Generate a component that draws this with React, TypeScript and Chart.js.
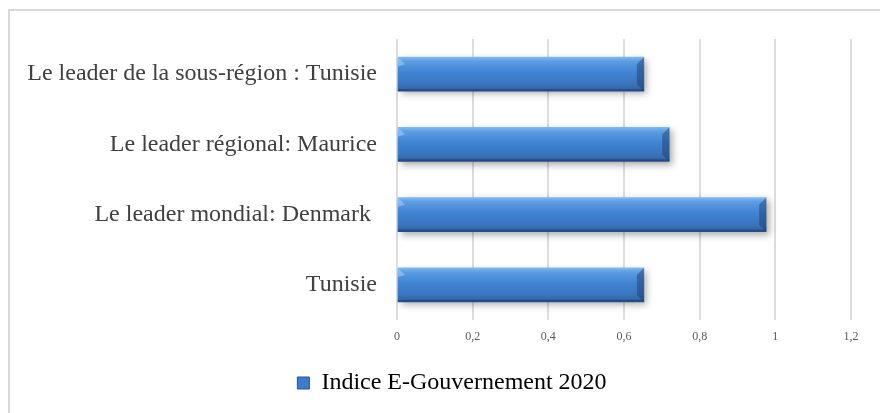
import React, { useEffect, useRef } from "react";
import { Chart, registerables } from "chart.js";

Chart.register(...registerables);

const categories = [
  "Le leader de la sous-région : Tunisie",
  "Le leader régional: Maurice",
  "Le leader mondial: Denmark ",
  "Tunisie",
];
const seriesName = "Indice E-Gouvernement 2020";
const values = [0.6526, 0.7196, 0.9758, 0.6526];
const xTicks = [0, 0.2, 0.4, 0.6, 0.8, 1, 1.2];

const FONT = "'Liberation Serif', 'Times New Roman', serif";
const BAR_THICK = 34;

const framePlugin = {
  id: "frame",
  afterLayout(chart: any) {
    if (chart.legend) chart.legend.left = 53;
  },
  beforeDraw(chart: any) {
    const { ctx, width, height } = chart;
    ctx.save();
    ctx.fillStyle = "#ffffff";
    ctx.fillRect(0, 0, width, height);
    ctx.strokeStyle = "#d9d9d9";
    ctx.lineWidth = 2;
    ctx.beginPath();
    ctx.moveTo(9, height);
    ctx.lineTo(9, 10);
    ctx.lineTo(width, 10);
    ctx.stroke();
    ctx.restore();
  },
  beforeDatasetDraw(chart: any) {
    const ctx = chart.ctx;
    ctx.save();
    ctx.shadowColor = "rgba(0,0,0,0.33)";
    ctx.shadowBlur = 7;
    ctx.shadowOffsetX = 3;
    ctx.shadowOffsetY = 3;
  },
  afterDatasetDraw(chart: any, args: any) {
    const ctx = chart.ctx;
    ctx.restore();
    const meta = args.meta;
    ctx.save();
    meta.data.forEach((el: any) => {
      const p = el.getProps(["x", "y", "base", "height"], true);
      const top = p.y - p.height / 2;
      const bot = p.y + p.height / 2;
      const b = 7;
      ctx.fillStyle = "rgba(25,55,105,0.45)";
      ctx.beginPath();
      ctx.moveTo(p.x - b, top + b);
      ctx.lineTo(p.x, top);
      ctx.lineTo(p.x, bot);
      ctx.lineTo(p.x - b, bot - b);
      ctx.closePath();
      ctx.fill();
      ctx.fillStyle = "rgba(170,210,250,0.55)";
      ctx.beginPath();
      ctx.moveTo(p.base, top);
      ctx.lineTo(p.base + b, top + b);
      ctx.lineTo(p.base, top + b + 2);
      ctx.closePath();
      ctx.fill();
      ctx.fillStyle = "rgba(30,60,110,0.6)";
      ctx.fillRect(p.base, bot - 2, p.x - p.base, 2);
    });
    ctx.restore();
  },
};

export default function App() {
  const ref = useRef<HTMLCanvasElement>(null);
  useEffect(() => {
    if (!ref.current) return;
    const chart = new Chart(ref.current, {
      type: "bar",
      data: {
        labels: categories,
        datasets: [
          {
            label: seriesName,
            data: values,
            barThickness: BAR_THICK,
            borderWidth: 0,
            backgroundColor: (c: any) => {
              if (c.type !== "data") return "#3d7dcb";
              const chart = c.chart;
              const ys = chart.scales?.y;
              if (!chart.chartArea || !ys) return "#3d7dcb";
              const y = ys.getPixelForValue(c.dataIndex);
              if (!isFinite(y)) return "#3d7dcb";
              const g = chart.ctx.createLinearGradient(0, y - BAR_THICK / 2, 0, y + BAR_THICK / 2);
              g.addColorStop(0, "#7fb9f2");
              g.addColorStop(0.12, "#5c9de3");
              g.addColorStop(0.45, "#4084d2");
              g.addColorStop(0.8, "#3a74bd");
              g.addColorStop(1, "#2f5f9c");
              return g;
            },
          },
        ],
      },
      options: {
        indexAxis: "y",
        responsive: false,
        animation: false,
        layout: { padding: { left: 0, right: 29, top: 39, bottom: 8 } },
        scales: {
          x: {
            min: 0,
            max: 1.2,
            afterBuildTicks: (s: any) => {
              s.ticks = xTicks.map((v) => ({ value: v }));
            },
            afterFit: (s: any) => {
              s.height = 41;
            },
            border: { display: false },
            grid: { color: "#dcdcdc", lineWidth: 2, drawTicks: false },
            ticks: {
              padding: 10,
              color: "#595959",
              font: { family: FONT, size: 12 },
              callback: (v: any) => String(v).replace(".", ","),
            },
          },
          y: {
            afterFit: (s: any) => {
              s.width = 397;
            },
            border: { display: false },
            grid: { display: false, drawTicks: false },
            ticks: {
              padding: 20,
              color: "#404040",
              font: { family: FONT, size: 24 },
            },
          },
        },
        plugins: {
          legend: {
            position: "bottom",
            labels: {
              boxWidth: 12,
              boxHeight: 12,
              color: "#404040",
              font: { family: FONT, size: 24 },
              generateLabels: () => [
                {
                  text: seriesName,
                  fillStyle: "#3d7dcb",
                  strokeStyle: "#2a5590",
                  lineWidth: 1,
                  datasetIndex: 0,
                  hidden: false,
                } as any,
              ],
            },
          },
          tooltip: { enabled: false },
        },
      } as any,
      plugins: [framePlugin],
    });
    return () => chart.destroy();
  }, []);
  return (
    <div style={{ position: "fixed", left: 0, top: 0, width: 880, height: 413 }}>
      <canvas ref={ref} width={880} height={413} style={{ display: "block" }} />
    </div>
  );
}
